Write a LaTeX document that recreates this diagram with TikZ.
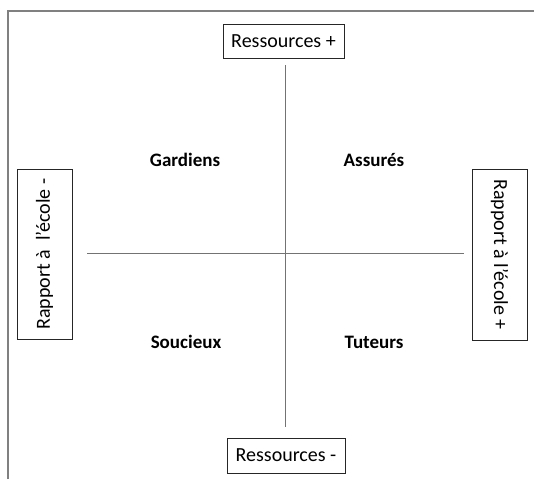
\documentclass[tikz,border=0pt]{standalone}
\usepackage{fontspec}
\setmainfont{Carlito}
\begin{document}
\begin{tikzpicture}
[x=1pt,y=-1pt,
  axisBox/.style={shape=rectangle,draw=black!85,line width=0.9pt,inner sep=0pt,font=\fontsize{20}{24}\selectfont},%
  groupLabel/.style={font=\fontsize{19}{22}\selectfont\bfseries},%
  axisLine/.style={-,draw=black!55,line width=0.9pt}]
\useasboundingbox (0,0) rectangle (534,479);
%% frame
\draw[black!50,line width=1.2pt] (8,479) -- (8,11) -- (534,11);
%% axis boxes
\node (resPlus) at (283.5,41) [axisBox,minimum width=121pt,minimum height=34pt] {Ressources +};
\node (resMoins) at (286,455.5) [axisBox,minimum width=118pt,minimum height=35pt] {Ressources -};
\node (ecoleMoins) at (44.5,254) [axisBox,rotate=90,minimum width=170pt,minimum height=55pt] {Rapport à\ \ l'école -};
\node (ecolePlus) at (499.5,254.5) [axisBox,rotate=-90,minimum width=171pt,minimum height=55pt] {Rapport à l'école +};
%% axis ends
\coordinate (haut) at (285,65);
\coordinate (bas) at (285,427);
\coordinate (gauche) at (87,253);
\coordinate (droite) at (464,253);
\draw[axisLine] (haut) -- (bas);
\draw[axisLine] (gauche) -- (droite);
%% quadrants
\foreach \nodename/\x/\y/\texte in {
  gardiens/185/160/Gardiens, assures/374/160/Assurés,
  soucieux/186/342/Soucieux, tuteurs/374/342/Tuteurs}
{
  \node (\nodename) at (\x,\y) [groupLabel] {\texte};
}
\end{tikzpicture}
\end{document}
